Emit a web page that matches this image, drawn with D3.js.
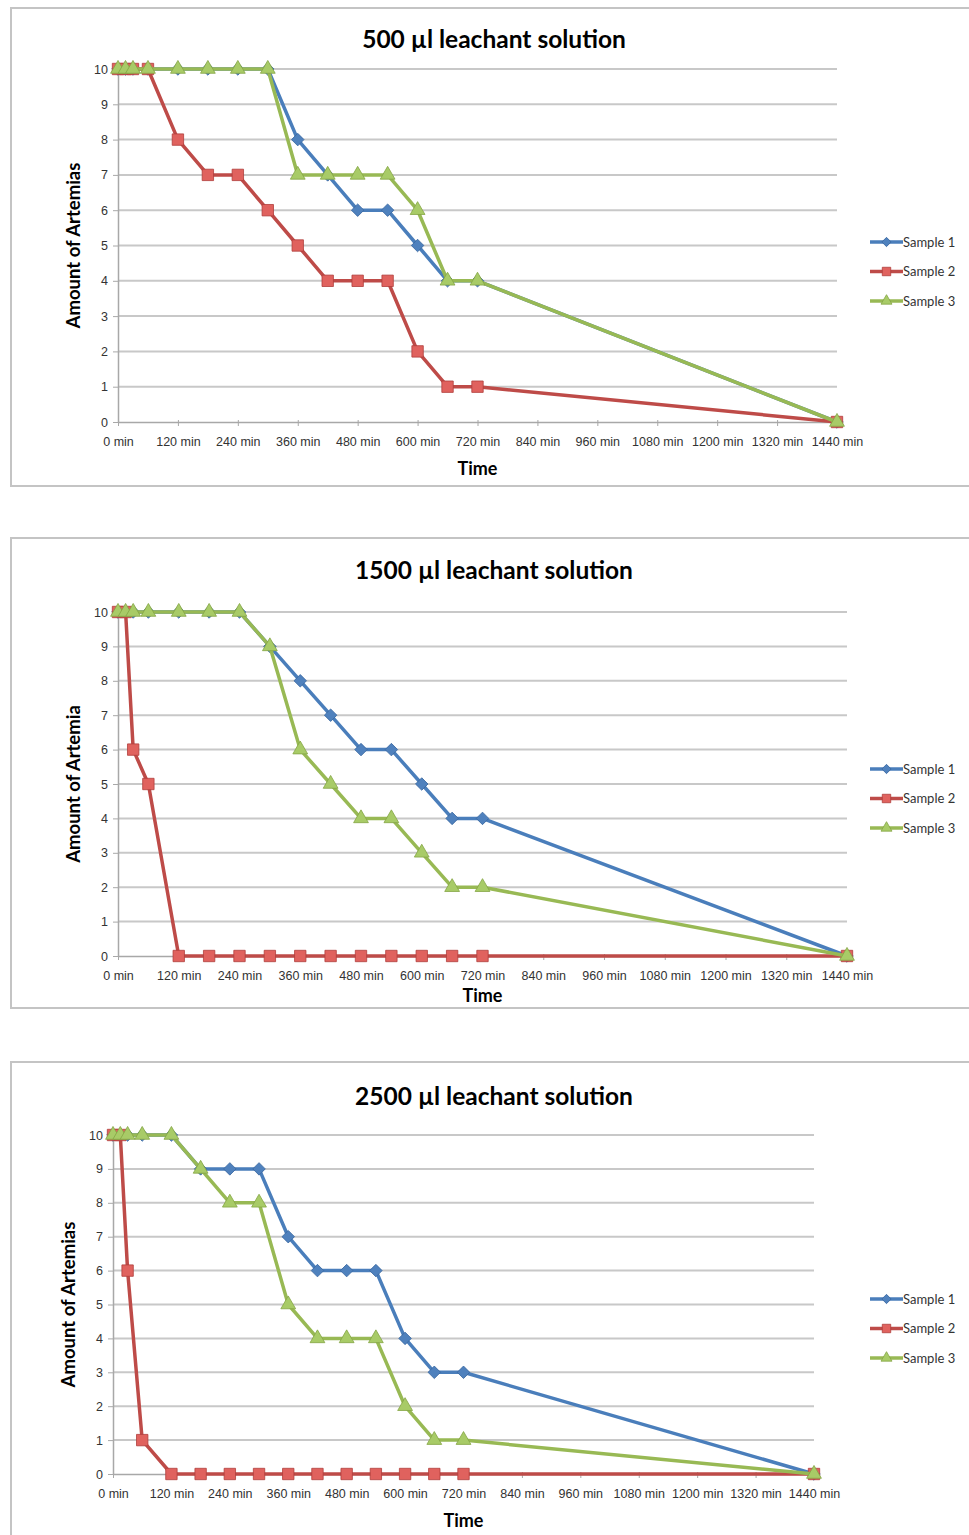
<!DOCTYPE html>
<html>
<head>
<meta charset="utf-8">
<script src="https://cdn.jsdelivr.net/npm/d3@7"></script>
<style>
  body { margin: 0; background: #fff; }
  svg { display: block; font-family: Lato, "Open Sans", sans-serif; }
</style>
</head>
<body>
<svg id="chart" width="969" height="1535"></svg>
<script>
// sampling times (minutes)
const times = [0, 15, 30, 60, 120, 180, 240, 300, 360, 420, 480, 540, 600, 660, 720, 1440];
const xTicks = d3.range(0, 1441, 120);
const yTicks = d3.range(0, 11, 1);
const seriesNames = ["Sample 1", "Sample 2", "Sample 3"];

// 500 µl
const s1_500 = [10, 10, 10, 10, 10, 10, 10, 10, 8, 7, 6, 6, 5, 4, 4, 0];
const s2_500 = [10, 10, 10, 10, 8, 7, 7, 6, 5, 4, 4, 4, 2, 1, 1, 0];
const s3_500 = [10, 10, 10, 10, 10, 10, 10, 10, 7, 7, 7, 7, 6, 4, 4, 0];

// 1500 µl
const s1_1500 = [10, 10, 10, 10, 10, 10, 10, 9, 8, 7, 6, 6, 5, 4, 4, 0];
const s2_1500 = [10, 10, 6, 5, 0, 0, 0, 0, 0, 0, 0, 0, 0, 0, 0, 0];
const s3_1500 = [10, 10, 10, 10, 10, 10, 10, 9, 6, 5, 4, 4, 3, 2, 2, 0];

// 2500 µl
const s1_2500 = [10, 10, 10, 10, 10, 9, 9, 9, 7, 6, 6, 6, 4, 3, 3, 0];
const s2_2500 = [10, 10, 6, 1, 0, 0, 0, 0, 0, 0, 0, 0, 0, 0, 0, 0];
const s3_2500 = [10, 10, 10, 10, 10, 9, 8, 8, 5, 4, 4, 4, 2, 1, 1, 0];

// diamond = square turned 45deg (wider than d3's symbolDiamond)
const styles = [
  { line: "#4A7EBB", fill: "#4F81BD", stroke: "#3A68A0", shape: d3.symbolSquare, size: 78, rot: 45 },
  { line: "#BE4B48", fill: "#E0625E", stroke: "#B03E3B", shape: d3.symbolSquare, size: 130, rot: 0 },
  { line: "#98B954", fill: "#A8CB67", stroke: "#84A544", shape: d3.symbolTriangle, size: 95, rot: 0 }
];

const charts = [
  { title: "500 µl leachant solution", ylabel: "Amount of Artemias", series: [s1_500, s2_500, s3_500],
    box: [8, 486], x0: 118, x1: 837, yTop: 69, yBot: 422, titleY: 48, ylabX: 80, xlabY: 475, legY: 242 },
  { title: "1500 µl leachant solution", ylabel: "Amount of Artemia", series: [s1_1500, s2_1500, s3_1500],
    box: [538, 1008], x0: 118, x1: 847, yTop: 612, yBot: 956, titleY: 579, ylabX: 80, xlabY: 1002, legY: 769 },
  { title: "2500 µl leachant solution", ylabel: "Amount of Artemias", series: [s1_2500, s2_2500, s3_2500],
    box: [1062, 1560], x0: 113, x1: 814, yTop: 1135, yBot: 1474, titleY: 1105, ylabX: 75, xlabY: 1527, legY: 1299 }
];

const svg = d3.select("#chart");

charts.forEach(c => {
  const g = svg.append("g");

  g.append("rect")
    .attr("x", 11).attr("y", c.box[0])
    .attr("width", 1000).attr("height", c.box[1] - c.box[0])
    .attr("fill", "#fff")
    .attr("stroke", "#c4c4c4")
    .attr("stroke-width", 2);

  const x = d3.scaleLinear().domain([0, 1440]).range([c.x0, c.x1]);
  const y = d3.scaleLinear().domain([0, 10]).range([c.yBot, c.yTop]);

  // horizontal gridlines
  g.append("g")
    .selectAll("line")
    .data(yTicks.filter(d => d > 0))
    .enter()
    .append("line")
    .attr("x1", c.x0).attr("x2", c.x1)
    .attr("y1", d => y(d)).attr("y2", d => y(d))
    .attr("stroke", "#c8c8c8")
    .attr("stroke-width", 2);

  const xAxis = g.append("g")
    .attr("transform", `translate(0,${c.yBot})`)
    .call(d3.axisBottom(x).tickValues(xTicks).tickSize(4).tickSizeOuter(0).tickFormat(d => d + " min"));
  xAxis.select(".domain").attr("stroke", "#a8a8a8").attr("stroke-width", 1.5);
  xAxis.selectAll(".tick line").attr("stroke", "#a8a8a8").attr("y1", -2);
  xAxis.selectAll("text")
    .attr("fill", "#333").attr("dy", "1.35em")
    .style("font-size", "12.5px");

  const yAxis = g.append("g")
    .attr("transform", `translate(${c.x0},0)`)
    .call(d3.axisLeft(y).tickValues(yTicks).tickSize(5).tickSizeOuter(0));
  yAxis.select(".domain").attr("stroke", "#a8a8a8").attr("stroke-width", 1.5);
  yAxis.selectAll(".tick line").attr("stroke", "#a8a8a8");
  yAxis.selectAll("text")
    .attr("fill", "#333").attr("x", -10)
    .style("font-size", "12.5px");

  g.append("text")
    .attr("x", 494).attr("y", c.titleY)
    .attr("text-anchor", "middle")
    .style("font-size", "24.5px").style("font-weight", "bold")
    .text(c.title);

  g.append("text")
    .attr("transform", `translate(${c.ylabX},${(c.yTop + c.yBot) / 2}) rotate(-90)`)
    .attr("text-anchor", "middle")
    .style("font-size", "18.5px").style("font-weight", "bold")
    .text(c.ylabel);

  g.append("text")
    .attr("x", (c.x0 + c.x1) / 2).attr("y", c.xlabY)
    .attr("text-anchor", "middle")
    .style("font-size", "18px").style("font-weight", "bold")
    .text("Time");

  const line = d3.line()
    .x((d, i) => x(times[i]))
    .y(d => y(d));

  c.series.forEach((vals, si) => {
    const st = styles[si];
    g.append("path")
      .datum(vals)
      .attr("fill", "none")
      .attr("stroke", st.line)
      .attr("stroke-width", 3.5)
      .attr("stroke-linejoin", "round")
      .attr("d", line);

    g.append("g")
      .selectAll("path")
      .data(vals)
      .enter()
      .append("path")
      .attr("transform", (d, i) => `translate(${x(times[i])},${y(d)}) rotate(${st.rot})`)
      .attr("d", d3.symbol().type(st.shape).size(st.size))
      .attr("fill", st.fill)
      .attr("stroke", st.stroke)
      .attr("stroke-width", 0.8);
  });

  // legend
  const legend = g.append("g").attr("transform", `translate(870,${c.legY})`);
  seriesNames.forEach((name, i) => {
    const st = styles[i];
    const item = legend.append("g").attr("transform", `translate(0,${i * 29.5})`);
    item.append("line")
      .attr("x1", 0).attr("x2", 33).attr("y1", 0).attr("y2", 0)
      .attr("stroke", st.line).attr("stroke-width", 3.5);
    item.append("path")
      .attr("transform", `translate(16.5,0) rotate(${st.rot})`)
      .attr("d", d3.symbol().type(st.shape).size(st.size * 0.55))
      .attr("fill", st.fill)
      .attr("stroke", st.stroke)
      .attr("stroke-width", 0.8);
    item.append("text")
      .attr("x", 33).attr("y", 4.5)
      .attr("fill", "#333")
      .style("font-size", "13px")
      .text(name);
  });
});
</script>
</body>
</html>
